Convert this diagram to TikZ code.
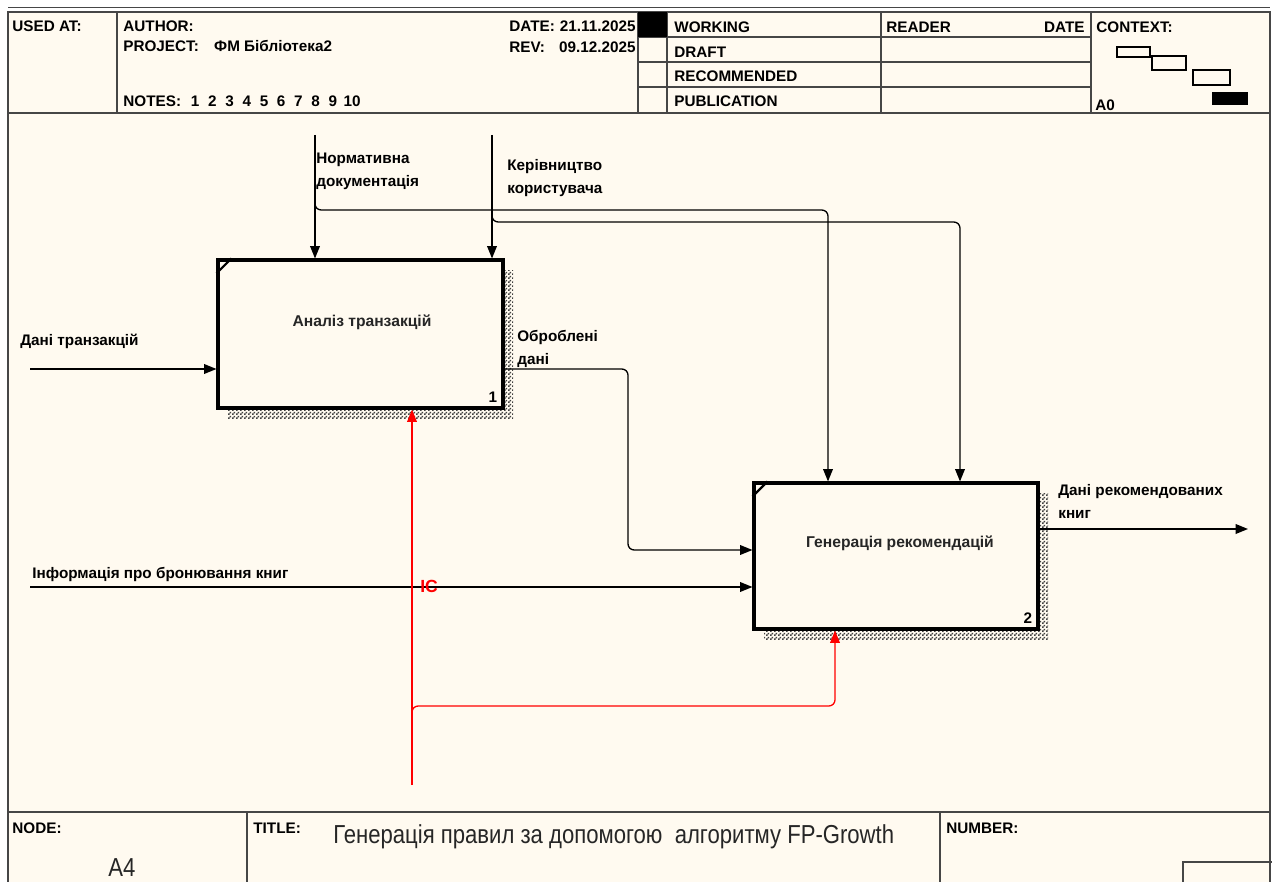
\documentclass[tikz,border=0pt]{standalone}
\usepackage{fontspec}
\setmainfont{Liberation Sans}
\newfontfamily\narrowfont[FakeStretch=0.85]{Liberation Sans}
\usetikzlibrary{arrows.meta, patterns, positioning}

\definecolor{paper}{RGB}{255,250,240}
\definecolor{framegray}{RGB}{70,70,70}
\pgfdeclarepatternformonly{shadowcheck}{\pgfpointorigin}{\pgfqpoint{2pt}{2pt}}{\pgfqpoint{2pt}{2pt}}{%
  \pgfpathrectangle{\pgfpointorigin}{\pgfqpoint{1pt}{1pt}}%
  \pgfpathrectangle{\pgfqpoint{1pt}{1pt}}{\pgfqpoint{1pt}{1pt}}%
  \pgfusepath{fill}}

\begin{document}
\begin{tikzpicture}[
  x=0.02cm, y=-0.02cm,
  hdr/.style={font=\fontsize{8.7}{10}\selectfont\bfseries, inner sep=0pt, anchor=base west},
  lbl/.style={font=\fontsize{8.7}{13}\selectfont\bfseries, inner sep=0pt, anchor=north west, align=left},
  boxtitle/.style={font=\fontsize{8.9}{10}\selectfont\bfseries, text=black!85, inner sep=0pt},
  bignarrow/.style={font=\narrowfont\fontsize{14.8}{17}\selectfont, text=black!85, inner sep=0pt},
  fnbox/.style={draw, line width=1.8pt, fill=paper, minimum width=5.7cm, minimum height=2.96cm},
  shadow/.style={pattern=shadowcheck, pattern color=black!75},
  rule/.style={draw=framegray, line width=0.9pt},
  flow/.style={->, line width=0.75pt},
  mech/.style={->, red, line width=0.75pt},
  >={Triangle[length=7pt, width=5.5pt]}]

  \useasboundingbox (0,0) rectangle (1272,882);
  \fill[white] (0,0) rectangle (1272,882);
  \fill[paper] (8,12) rectangle (1270,882);

  % frame and form
  \draw[framegray, line width=0.4pt] (8,7) -- (1270,7);
  \draw[rule] (8,882) -- (8,12) -- (1270,12) -- (1270,882);
  \draw[rule] (8,113) -- (1270,113);
  \draw[rule] (8,812) -- (1270,812);
  \foreach \xx in {117,638,667,881,1091}
    \draw[rule] (\xx,12) -- (\xx,113);
  \foreach \yy in {37,62,87}
    \draw[rule] (638,\yy) -- (1091,\yy);
  \fill (638,12) rectangle (667,37);
  \draw[rule] (247,812) -- (247,882);
  \draw[rule] (940,812) -- (940,882);
  \draw[rule] (1183,882) -- (1183,862) -- (1272,862);

  \node[hdr] (usedat) at (12,32) {USED AT:};
  \node[hdr] (author) at (123,32) {AUTHOR:};
  \node[hdr] (project) at (123,52) {PROJECT:\hspace{1em}ФМ Бібліотека2};
  \node[hdr] (notes) at (123,107) {NOTES:};
  \foreach \n in {1,...,10}
    \node[hdr, anchor=base] (note\n) at ({178+17.2*\n+2*(\n>9)},107) {\n};
  \node[hdr] (datelbl) at (509,32) {DATE:};
  \node[hdr, anchor=base east] (dateval) at (636,32) {21.11.2025};
  \node[hdr] (revlbl) at (509,53) {REV:};
  \node[hdr, anchor=base east] (revval) at (636,53) {09.12.2025};
  \node[hdr] (working) at (674,33) {WORKING};
  \node[hdr] (draft) at (674,58) {DRAFT};
  \node[hdr] (recomm) at (674,82) {RECOMMENDED};
  \node[hdr] (publ) at (674,107) {PUBLICATION};
  \node[hdr] (reader) at (886,33) {READER};
  \node[hdr, anchor=base east] (rdate) at (1085,33) {DATE};
  \node[hdr] (context) at (1096,33) {CONTEXT:};
  \node[hdr] (ctxnode) at (1095,111) {A0};
  \draw[line width=0.8pt] (1117,47) rectangle (1150,57);
  \draw[line width=0.8pt] (1152,56) rectangle (1186,70);
  \draw[line width=0.8pt] (1193,70) rectangle (1230,85);
  \fill (1212,92) rectangle (1248,105);

  \node[hdr] (nodelbl) at (12,833) {NODE:};
  \node[bignarrow, anchor=base] (nodeid) at (122,876) {A4};
  \node[hdr] (titlelbl) at (253,833) {TITLE:};
  \node[bignarrow, anchor=base west] (title) at (333,843) {Генерація правил за допомогою\ \ алгоритму FP-Growth};
  \node[hdr] (numberlbl) at (946,833) {NUMBER:};

  % activities
  \fill[shadow] (228,270) rectangle (513,418);
  \fill[shadow] (764,493) rectangle (1048,639);
  \node[fnbox] (a1) at (360.5,334) {};
  \node[fnbox, minimum width=5.68cm, minimum height=2.92cm] (a2) at (896,556) {};
  \draw[line width=1.3pt] ([shift={(0,15)}]a1.north west) -- ([shift={(15,0)}]a1.north west);
  \draw[line width=1.3pt] ([shift={(0,15)}]a2.north west) -- ([shift={(15,0)}]a2.north west);
  \node[boxtitle] (a1t) at ([shift={(1.5,-12)}]a1.center) {Аналіз транзакцій};
  \node[boxtitle] (a2t) at ([shift={(4,-13)}]a2.center) {Генерація рекомендацій};
  \node[hdr, anchor=south east, inner sep=4pt] (a1n) at (a1.south east) {1};
  \node[hdr, anchor=south east, inner sep=4pt] (a2n) at (a2.south east) {2};

  % arrows
  \coordinate (dt) at (30,369);
  \coordinate (ib) at (30,587);
  \coordinate (nd) at (315,135);
  \coordinate (ndj) at (315,203);
  \coordinate (ndk) at (828,210);
  \coordinate (ku) at (492,135);
  \coordinate (kuj) at (492,215);
  \coordinate (kuk) at (960,222);
  \coordinate (od1) at (628,369);
  \coordinate (od2) at (628,550);
  \coordinate (dr) at (1248,529);
  \coordinate (ic) at (412,785);
  \coordinate (icj) at (412,712);
  \coordinate (ick) at (835,706);

  \draw[flow] (dt) -- (dt -| a1.west);
  \draw[flow] (ib) -- (ib -| a2.west);
  \draw[flow] (nd) -- (nd |- a1.north);
  \draw[flow, rounded corners=3.5pt] (ndj) -- (ndj |- ndk) -- (ndk) -- (ndk |- a2.north);
  \draw[flow] (ku) -- (ku |- a1.north);
  \draw[flow, rounded corners=3.5pt] (kuj) -- (kuj |- kuk) -- (kuk) -- (kuk |- a2.north);
  \draw[flow, rounded corners=3.5pt] (od1 -| a1.east) -- (od1) -- (od2) -- (od2 -| a2.west);
  \draw[flow] (dr -| a2.east) -- (dr);
  \draw[mech] (ic) -- (ic |- a1.south);
  \draw[mech, rounded corners=3.5pt] (icj) -- (icj |- ick) -- (ick) -- (ick |- a2.south);

  \node[lbl] (dtl) at (20,334) {Дані транзакцій};
  \node[lbl] (ibl) at (32,567) {Інформація про бронювання книг};
  \node[lbl] (ndl) at (316,153) {Нормативна\\документація};
  \node[lbl] (kul) at (507,159) {Керівництво\\користувача};
  \node[lbl] (odl) at (517,330) {Оброблені\\дані};
  \node[lbl] (drl) at (1058,484) {Дані рекомендованих\\книг};
  \node[lbl, red, font=\fontsize{10}{12}\selectfont\bfseries] (icl) at (420,580) {ІС};
\end{tikzpicture}
\end{document}
